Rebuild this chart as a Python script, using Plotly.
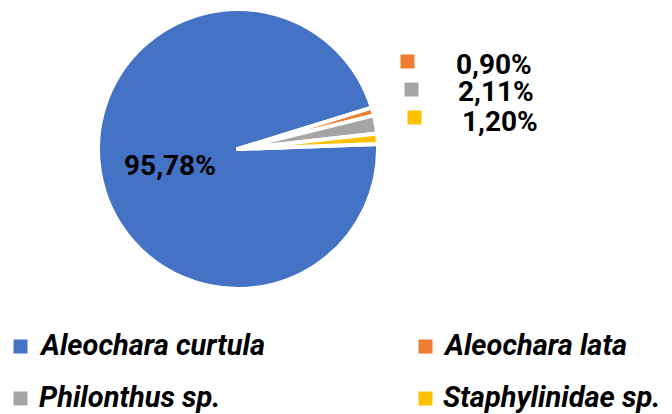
import plotly.graph_objects as go

species = ["Aleochara curtula", "Aleochara lata", "Philonthus sp.", "Staphylinidae sp."]
shares = [95.78, 0.90, 2.11, 1.20]
colors = ["#4472C4", "#ED7D31", "#A5A5A5", "#FFC000"]

def fmt(v):
    return f"{v:.2f}".replace(".", ",") + "%"

# the page places the figure 8px in from the window's top-left corner
OFF = 8
W, H = 672 - OFF, 414 - OFF
FONT = "Roboto"

def fx(x):
    return (x - OFF) / W

def fy(y):
    return 1 - (y - OFF) / H

cx, cy, r = 238, 149, 140

fig = go.Figure(go.Pie(
    labels=species,
    values=shares,
    sort=False,
    direction="clockwise",
    rotation=88,
    marker=dict(colors=colors, line=dict(color="white", width=4)),
    textinfo="none",
    hoverinfo="label+percent",
    showlegend=False,
    domain=dict(x=[fx(cx - r), fx(cx + r)],
                y=[max(0, fy(cy + r)), min(1, fy(cy - r))]),
))

def px(x, y, **kw):
    d = dict(x=fx(x), y=fy(y), xref="paper", yref="paper", showarrow=False,
             xanchor="center", yanchor="middle")
    d.update(kw)
    return d

def key(x, y, color):
    return px(x, y, text=" ", width=13, height=13, bgcolor=color,
              borderpad=0, font=dict(size=4))

annotations = []
num_font = dict(family=FONT, size=28, color="black", weight="bold")
# main label inside the large slice
annotations.append(px(170, 165.5, text=fmt(shares[0]), font=num_font))
# small-slice labels with colour keys
key_pos = [(407.5, 61.5), (411, 89), (414.5, 117.5)]
txt_pos = [(493.5, 64.5), (495.5, 92), (499.5, 121.5)]
for i in range(1, 4):
    annotations.append(key(*key_pos[i - 1], colors[i]))
    annotations.append(px(*txt_pos[i - 1], text=fmt(shares[i]), font=num_font))

# legend (two columns, two rows)
leg_keys = [(20.5, 346), (425, 346), (20.5, 398.5), (425, 398.5)]
leg_text = [(37, 345), (441, 345), (37, 397), (441, 397)]
for i in range(4):
    annotations.append(key(*leg_keys[i], colors[i]))
    annotations.append(px(*leg_text[i], text=species[i], xanchor="left",
                          font=dict(family=FONT, size=29, color="black",
                                    weight="bold", style="italic")))

fig.update_layout(
    width=W, height=H,
    margin=dict(l=0, r=0, t=0, b=0),
    paper_bgcolor="white",
    showlegend=False,
    annotations=annotations,
)

fig.write_html("out.html")
